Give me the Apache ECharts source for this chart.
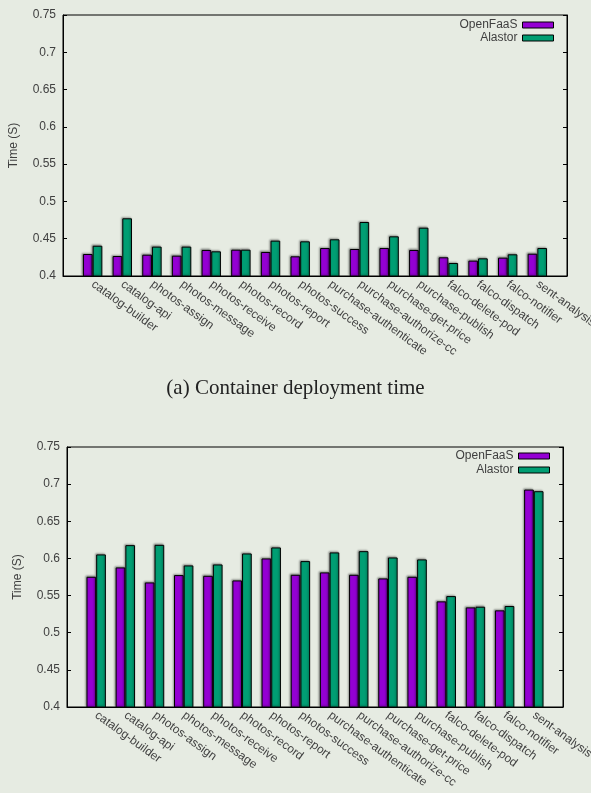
<!DOCTYPE html>
<html>
<head>
<meta charset="utf-8">
<script src="https://cdn.jsdelivr.net/npm/echarts@6/dist/echarts.min.js"></script>
<style>
html,body{margin:0;padding:0;background:#e6ebe2;}
#c{width:591px;height:793px;}
</style>
</head>
<body>
<div id="c"></div>
<script>
const categories = ['catalog-builder','catalog-api','photos-assign','photos-message','photos-receive','photos-record','photos-report','photos-success','purchase-authenticate','purchase-authorize-cc','purchase-get-price','purchase-publish','falco-delete-pod','falco-dispatch','falco-notifier','sent-analysis'];
const openfaasA = [0.4295,0.4268,0.4286,0.4273,0.4349,0.4353,0.4322,0.4264,0.4375,0.4362,0.4375,0.4349,0.4251,0.4206,0.4246,0.4299];
const alastorA  = [0.4406,0.4774,0.4394,0.4394,0.4331,0.4353,0.4474,0.4465,0.4492,0.4724,0.4532,0.4648,0.4174,0.4237,0.4291,0.4375];
const openfaasB = [0.5753,0.5879,0.5677,0.5776,0.5766,0.5704,0.6000,0.5780,0.5812,0.5780,0.5731,0.5753,0.5422,0.5341,0.5301,0.6927];
const alastorB  = [0.6054,0.6179,0.6183,0.5906,0.5919,0.6067,0.6148,0.5964,0.6081,0.6098,0.6013,0.5987,0.5493,0.5350,0.5359,0.6905];
const yMin = 0.4, yMax = 0.75, yStep = 0.05;
const seriesNames = ['OpenFaaS','Alastor'];
const colors = ['#9400d3','#009e73'];
const caption = '(a) Container deployment time';

const axisCats = [''].concat(categories, ['']);
const pad = v => ['-'].concat(v, ['-']);
const FONT = 'Liberation Sans, Arial, sans-serif';
const TXT = '#404040';

const grids = [
  {left:63, top:15, width:504, height:261},
  {left:67, top:447, width:496, height:260}
];

function xAxis(gi){
  return {
    type:'category', gridIndex:gi, data:axisCats, boundaryGap:false,
    axisLine:{lineStyle:{color:'#000',width:1}},
    axisTick:{show:false},
    axisLabel:{rotate:-36, margin:7, interval:0, fontSize:12, color:TXT, fontFamily:FONT},
    splitLine:{show:false}
  };
}
function yAxis(gi, right){
  return {
    type:'value', gridIndex:gi, min:yMin, max:yMax, interval:yStep,
    position: right ? 'right' : 'left',
    name: right ? '' : 'Time (S)', nameLocation:'middle', nameGap:43,
    nameTextStyle:{fontSize:12, color:TXT, fontFamily:FONT},
    axisLine:{show:true, lineStyle:{color:'#000',width:1}},
    axisTick:{show:true, inside:true, length:4, lineStyle:{color:'#000'}},
    axisLabel:{show:!right, fontSize:12, color:TXT, fontFamily:FONT, margin:7},
    splitLine:{show:false}
  };
}
function bar(name, data, ci, gi){
  return {
    type:'bar', name:name, xAxisIndex:gi, yAxisIndex:gi*2, data:pad(data),
    barWidth:9.7, barGap:'0%',
    itemStyle:{color:colors[ci], borderColor:'#000', borderWidth:1,
      shadowColor:'rgba(0,0,0,0.35)', shadowBlur:2, shadowOffsetX:-1, shadowOffsetY:-1},
    emphasis:{disabled:true}
  };
}
function legend(name, ci, top, right){
  return {
    data:[name], top:top, right:right, padding:0, itemWidth:31, itemHeight:6,
    align:'right', icon:'rect', selectedMode:false,
    itemStyle:{color:colors[ci], borderColor:'#000', borderWidth:1, shadowBlur:0},
    textStyle:{fontSize:12, color:TXT, fontFamily:FONT}
  };
}

const option = {
  backgroundColor:'#e6ebe2',
  animation:false,
  title:{text:caption, left:'center', top:373,
    textStyle:{fontFamily:'Liberation Serif, Times New Roman, serif', fontSize:21, fontWeight:'normal', color:'#222'}},
  grid: grids.map(g => Object.assign({show:true, borderColor:'#000', borderWidth:1, backgroundColor:'transparent',
    containLabel:false, outerBoundsMode:'none'}, g)),
  legend:[
    legend(seriesNames[0],0,19,37),
    legend(seriesNames[1],1,32,37),
    legend(seriesNames[0],0,450,41),
    legend(seriesNames[1],1,464,41)
  ],
  xAxis:[xAxis(0), xAxis(1)],
  yAxis:[yAxis(0,false), yAxis(0,true), yAxis(1,false), yAxis(1,true)],
  series:[
    bar(seriesNames[0], openfaasA, 0, 0),
    bar(seriesNames[1], alastorA, 1, 0),
    bar(seriesNames[0], openfaasB, 0, 1),
    bar(seriesNames[1], alastorB, 1, 1)
  ]
};
const chart = echarts.init(document.getElementById('c'), null, {renderer:'canvas'});
chart.setOption(option);
</script>
</body>
</html>
